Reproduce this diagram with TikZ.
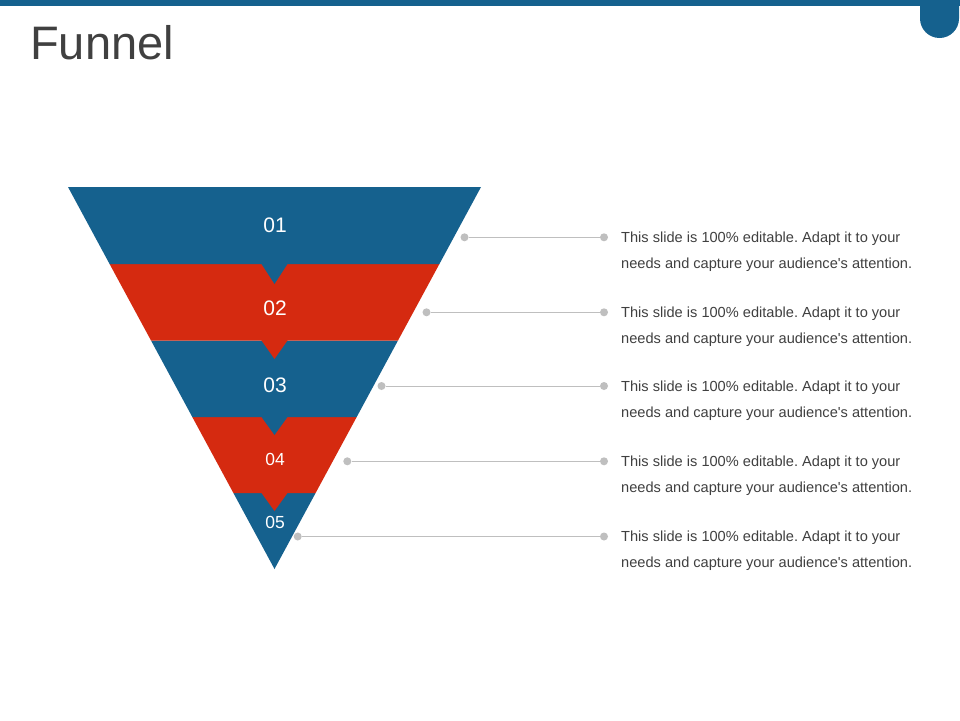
\documentclass[tikz,border=0pt]{standalone}
\usepackage{fontspec}
\setmainfont{Liberation Sans}
\definecolor{fblue}{HTML}{15618E}
\definecolor{fred}{HTML}{D52A10}
\definecolor{ftext}{HTML}{404040}
\definecolor{fline}{HTML}{BFBFBF}
\frenchspacing
\begin{document}
\begin{tikzpicture}[x=1pt,y=-1pt,
  numlbl/.style={text=white,inner sep=0pt,font=\fontsize{21}{21}\selectfont},
  numsmall/.style={text=white,inner sep=0pt,font=\fontsize{17.5}{17.5}\selectfont},
  dotnode/.style={circle,fill=fline,inner sep=0pt,minimum size=8pt},
  desc/.style={anchor=west,align=left,inner sep=0pt,text=ftext,font=\fontsize{14.6}{26}\selectfont},
  conn/.style={draw=fline,line width=1pt}]
\useasboundingbox (0,0) rectangle (960,720);
\fill[white] (0,0) rectangle (960,720);
% top bar and tab
\fill[fblue] (0,0) rectangle (960,6);
\fill[fblue] (920,0) -- (920,18.5) arc[start angle=180,end angle=0,radius=19.5] -- (959,0) -- cycle;
\node[anchor=base west,inner sep=0pt,text=ftext,font=\fontsize{47}{47}\selectfont] (title) at (30,59) {Funnel};
% funnel bands, bottom to top
\fill[fblue] (233.4,493) -- (315.6,493) -- (274.5,569) -- cycle;
\fill[fred] (192.3,417) -- (356.7,417) -- (315.6,493) -- (287.5,493) -- (274.5,511) -- (261.5,493) -- (233.4,493) -- cycle;
\fill[fblue] (151,340.5) -- (398,340.5) -- (356.7,417) -- (287.5,417) -- (274.5,435) -- (261.5,417) -- (192.3,417) -- cycle;
\fill[fred] (109.6,264) -- (439.4,264) -- (398,340.5) -- (287.5,340.5) -- (274.5,359) -- (261.5,340.5) -- (151,340.5) -- cycle;
\fill[fblue] (68,187) -- (481,187) -- (439.4,264) -- (287.5,264) -- (274.5,284) -- (261.5,264) -- (109.6,264) -- cycle;
% numbers
\node[numlbl] (n1) at (275,225.5) {01};
\node[numlbl] (n2) at (275,308.5) {02};
\node[numlbl] (n3) at (275,385) {03};
\node[numsmall] (n4) at (275,459.5) {04};
\node[numsmall] (n5) at (275,522) {05};
% dots and connectors
\node[dotnode] (a1) at (464.5,237.3) {};
\node[dotnode] (a2) at (426.5,312.3) {};
\node[dotnode] (a3) at (381.5,386) {};
\node[dotnode] (a4) at (347.3,461.3) {};
\node[dotnode] (a5) at (297.7,536.5) {};
\node[dotnode] (b1) at (604,237.3) {};
\node[dotnode] (b2) at (604,312.3) {};
\node[dotnode] (b3) at (604,386) {};
\node[dotnode] (b4) at (604,461.3) {};
\node[dotnode] (b5) at (604,536.5) {};
\draw[conn] (a1) -- (b1);
\draw[conn] (a2) -- (b2);
\draw[conn] (a3) -- (b3);
\draw[conn] (a4) -- (b4);
\draw[conn] (a5) -- (b5);
% descriptions
\node[desc] (t1) at (621,252) {This slide is 100\% editable. Adapt it to your\\needs and capture your audience\textquotesingle s attention.};
\node[desc] (t2) at (621,326.5) {This slide is 100\% editable. Adapt it to your\\needs and capture your audience\textquotesingle s attention.};
\node[desc] (t3) at (621,401) {This slide is 100\% editable. Adapt it to your\\needs and capture your audience\textquotesingle s attention.};
\node[desc] (t4) at (621,476) {This slide is 100\% editable. Adapt it to your\\needs and capture your audience\textquotesingle s attention.};
\node[desc] (t5) at (621,550.5) {This slide is 100\% editable. Adapt it to your\\needs and capture your audience\textquotesingle s attention.};
\end{tikzpicture}
\end{document}
